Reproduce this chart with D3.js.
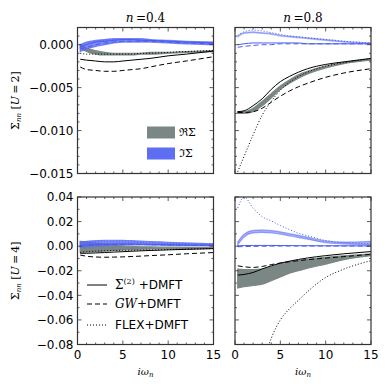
<!DOCTYPE html>
<html>
<head>
<meta charset="utf-8">
<script src="https://cdn.jsdelivr.net/npm/d3@7"></script>
<style>
  body { margin: 0; background: #fff; }
  text { font-family: "DejaVu Sans", sans-serif; }
  .serif { font-family: "DejaVu Serif", "Liberation Serif", serif; }
</style>
</head>
<body>
<div id="chart"></div>
<script>
// frequency grid (i omega_n)
var wn = [0.3, 1, 2, 3, 4, 5, 6, 7, 8, 10, 12, 15];

// n=0.4, U=2
var a_reS2   = [-0.0017, -0.0018, -0.0019, -0.0020, -0.0020, -0.0019, -0.0018, -0.0017, -0.0016, -0.0013, -0.0011, -0.00075];
var a_reGW   = [-0.0026, -0.0029, -0.0030, -0.0031, -0.0031, -0.0030, -0.0029, -0.0028, -0.0026, -0.0022, -0.0019, -0.0014];
var a_reFLEX = [-0.0010, -0.0011, -0.0011, -0.0011, -0.0011, -0.0011, -0.0011, -0.0010, -0.0010, -0.0009, -0.0008, -0.0007];
var a_reLo   = [-0.0004, -0.0008, -0.0011, -0.0012, -0.0012, -0.0012, -0.0012, -0.0011, -0.0011, -0.0010, -0.0009, -0.0008];
var a_reHi   = [ 0.0000, -0.0004, -0.0007, -0.0009, -0.0010, -0.0010, -0.0010, -0.0010, -0.0009, -0.0009, -0.0008, -0.0007];
var a_imLo   = [-0.0008, -0.0005, -0.0002, 0.0000, 0.0002, 0.0003, 0.0003, 0.0003, 0.0003, 0.0002, 0.0001, 0.0000];
var a_imHi   = [ 0.0000, 0.0003, 0.0005, 0.0006, 0.0007, 0.0007, 0.0007, 0.0007, 0.0006, 0.0005, 0.0004, 0.0003];
var a_imS2   = [-0.0003, 0.0000, 0.0003, 0.0004, 0.0005, 0.0006, 0.0006, 0.0005, 0.0005, 0.0004, 0.0003, 0.0002];
var a_imGW   = [-0.0005, -0.0003, 0.0000, 0.0002, 0.0003, 0.0004, 0.0004, 0.0004, 0.0004, 0.0003, 0.0002, 0.0001];
var a_imFLEX = [-0.0002, 0.0001, 0.0004, 0.0005, 0.0006, 0.0006, 0.0006, 0.0006, 0.0005, 0.0004, 0.0003, 0.0002];

// n=0.8, U=2
var b_reS2   = [-0.0078, -0.0077, -0.0071, -0.0063, -0.0052, -0.0043, -0.0037, -0.0032, -0.0028, -0.0023, -0.0020, -0.0016];
var b_reGW   = [-0.0079, -0.0079, -0.0078, -0.0074, -0.0067, -0.0060, -0.0054, -0.0049, -0.0045, -0.0038, -0.0033, -0.0028];
var b_reFLEX = [-0.0148, -0.0130, -0.0105, -0.0082, -0.0066, -0.0053, -0.0044, -0.0037, -0.0032, -0.0025, -0.0021, -0.0016];
var b_reLo   = [-0.0080, -0.0080, -0.0078, -0.0071, -0.0062, -0.0052, -0.0045, -0.0039, -0.0034, -0.0027, -0.0022, -0.0018];
var b_reHi   = [-0.0078, -0.0078, -0.0074, -0.0066, -0.0057, -0.0048, -0.0041, -0.0035, -0.0031, -0.0025, -0.0021, -0.0017];
var b_imLo   = [ 0.0009, 0.0013, 0.0014, 0.0013, 0.0012, 0.0010, 0.0009, 0.0008, 0.0007, 0.0005, 0.0003, 0.0001];
var b_imHi   = [ 0.0010, 0.0014, 0.0015, 0.0014, 0.0013, 0.0011, 0.0010, 0.0009, 0.0008, 0.0006, 0.0004, 0.0002];
var b_imS2   = [ 0.0000, 0.0001, 0.0002, 0.0002, 0.0002, 0.0002, 0.0002, 0.0002, 0.0001, 0.0001, 0.0001, 0.0001];
var b_imGW   = [-0.0003, -0.0002, -0.0001, 0.0000, 0.0000, 0.0001, 0.0001, 0.0001, 0.0001, 0.0001, 0.0001, 0.0001];
var b_imFLEX = [ 0.0011, 0.0015, 0.0017, 0.0016, 0.0014, 0.0012, 0.0010, 0.0009, 0.0008, 0.0006, 0.0004, 0.0002];

// n=0.4, U=4
var c_reS2   = [-0.0058, -0.0058, -0.0055, -0.0052, -0.0048, -0.0045, -0.0041, -0.0038, -0.0035, -0.0030, -0.0026, -0.0020];
var c_reGW   = [-0.0072, -0.0082, -0.0088, -0.0090, -0.0089, -0.0087, -0.0084, -0.0081, -0.0077, -0.0070, -0.0062, -0.0052];
var c_reFLEX = [-0.0050, -0.0045, -0.0040, -0.0037, -0.0035, -0.0034, -0.0033, -0.0032, -0.0031, -0.0028, -0.0024, -0.0019];
var c_reLo   = [-0.0050, -0.0048, -0.0045, -0.0040, -0.0035, -0.0031, -0.0028, -0.0025, -0.0023, -0.0020, -0.0018, -0.0015];
var c_reHi   = [ 0.0040, 0.0035, 0.0025, 0.0015, 0.0008, 0.0002, -0.0002, -0.0005, -0.0006, -0.0008, -0.0009, -0.0010];
var c_imLo   = [-0.0010, -0.0005, 0.0000, 0.0005, 0.0008, 0.0010, 0.0010, 0.0010, 0.0009, 0.0007, 0.0005, 0.0003];
var c_imHi   = [ 0.0035, 0.0040, 0.0045, 0.0048, 0.0048, 0.0047, 0.0045, 0.0042, 0.0038, 0.0032, 0.0026, 0.0020];
var c_imS2   = [ 0.0005, 0.0010, 0.0015, 0.0018, 0.0019, 0.0019, 0.0018, 0.0017, 0.0015, 0.0012, 0.0010, 0.0008];
var c_imGW   = [ 0.0000, 0.0005, 0.0010, 0.0013, 0.0014, 0.0014, 0.0014, 0.0013, 0.0012, 0.0010, 0.0008, 0.0006];
var c_imFLEX = [ 0.0020, 0.0028, 0.0033, 0.0035, 0.0035, 0.0034, 0.0032, 0.0030, 0.0027, 0.0022, 0.0018, 0.0014];

// n=0.8, U=4
var d_reS2   = [-0.0236, -0.0230, -0.0214, -0.0185, -0.0160, -0.0138, -0.0122, -0.0108, -0.0096, -0.0077, -0.0062, -0.0044];
var d_reGW   = [-0.0160, -0.0168, -0.0173, -0.0165, -0.0150, -0.0137, -0.0127, -0.0118, -0.0110, -0.0097, -0.0085, -0.0066];
var d_reFLEX = [-0.2500, -0.1900, -0.1400, -0.0980, -0.0750, -0.0600, -0.0510, -0.0440, -0.0370, -0.0255, -0.0187, -0.0118];
var d_reLo   = [-0.0340, -0.0330, -0.0320, -0.0310, -0.0280, -0.0250, -0.0220, -0.0200, -0.0180, -0.0146, -0.0110, -0.0077];
var d_reHi   = [-0.0187, -0.0190, -0.0190, -0.0187, -0.0168, -0.0146, -0.0130, -0.0118, -0.0108, -0.0090, -0.0078, -0.0063];
var d_imLo   = [ 0.0010, 0.0075, 0.0108, 0.0112, 0.0107, 0.0097, 0.0084, 0.0070, 0.0057, 0.0028, 0.0018, 0.0010];
var d_imHi   = [ 0.0035, 0.0098, 0.0128, 0.0132, 0.0127, 0.0117, 0.0102, 0.0088, 0.0073, 0.0043, 0.0033, 0.0040];
var d_imS2   = [ 0.0003, 0.0005, 0.0006, 0.0006, 0.0006, 0.0005, 0.0005, 0.0004, 0.0004, 0.0003, 0.0003, 0.0002];
var d_imGW   = [-0.0005, -0.0003, -0.0002, -0.0001, 0.0000, 0.0001, 0.0001, 0.0001, 0.0001, 0.0001, 0.0001, 0.0001];
var d_imFLEX = [ 0.0310, 0.0400, 0.0310, 0.0240, 0.0205, 0.0168, 0.0135, 0.0105, 0.0085, 0.0046, 0.0030, 0.0020];

var xTicks = [0, 5, 10, 15];
var yTicksU2 = [0.000, -0.005, -0.010, -0.015];
var yTicksU4 = [0.04, 0.02, 0.00, -0.02, -0.04, -0.06, -0.08];

var grey = "#7b8784", blue = "#5d6ef2", blueLine = "#4a5cf0";

var svg = d3.select("#chart").append("svg")
  .attr("width", 390).attr("height", 390);

var defs = svg.append("defs");

var colL = [77.5, 213.5], colR = [235, 371];
var rowT = [27.5, 173.5], rowB = [197, 344.5];

var panels = [
  {id: "a", xr: colL, yr: rowT, dom: [-0.015, 0.002], yt: yTicksU2, minor: 0.001, fmt: d3.format(".3f"), leftLab: true, bottomLab: false, op: 0.8,
   reS2: a_reS2, reGW: a_reGW, reFLEX: a_reFLEX, reLo: a_reLo, reHi: a_reHi, imLo: a_imLo, imHi: a_imHi, imS2: a_imS2, imGW: a_imGW, imFLEX: a_imFLEX},
  {id: "b", xr: colR, yr: rowT, dom: [-0.015, 0.002], yt: yTicksU2, minor: 0.001, fmt: d3.format(".3f"), leftLab: false, bottomLab: false, op: 0.45,
   reS2: b_reS2, reGW: b_reGW, reFLEX: b_reFLEX, reLo: b_reLo, reHi: b_reHi, imLo: b_imLo, imHi: b_imHi, imS2: b_imS2, imGW: b_imGW, imFLEX: b_imFLEX},
  {id: "c", xr: colL, yr: rowB, dom: [-0.08, 0.04], yt: yTicksU4, minor: 0.01, fmt: d3.format(".2f"), leftLab: true, bottomLab: true, op: 0.8,
   reS2: c_reS2, reGW: c_reGW, reFLEX: c_reFLEX, reLo: c_reLo, reHi: c_reHi, imLo: c_imLo, imHi: c_imHi, imS2: c_imS2, imGW: c_imGW, imFLEX: c_imFLEX},
  {id: "d", xr: colR, yr: rowB, dom: [-0.08, 0.04], yt: yTicksU4, minor: 0.01, fmt: d3.format(".2f"), leftLab: false, bottomLab: true, op: 0.55,
   reS2: d_reS2, reGW: d_reGW, reFLEX: d_reFLEX, reLo: d_reLo, reHi: d_reHi, imLo: d_imLo, imHi: d_imHi, imS2: d_imS2, imGW: d_imGW, imFLEX: d_imFLEX}
];

function minus(s) { return s.replace("-", "\u2212"); }

panels.forEach(function(p) {
  var x = d3.scaleLinear().domain([0, 15]).range(p.xr);
  var y = d3.scaleLinear().domain(p.dom).range([p.yr[1], p.yr[0]]);
  var w = p.xr[1] - p.xr[0], h = p.yr[1] - p.yr[0];

  defs.append("clipPath").attr("id", "clip-" + p.id)
    .append("rect").attr("x", p.xr[0]).attr("y", p.yr[0]).attr("width", w).attr("height", h);

  var g = svg.append("g").attr("clip-path", "url(#clip-" + p.id + ")");

  var area = function(lo, hi) {
    return d3.area().curve(d3.curveMonotoneX)
      .x(function(d, i) { return x(wn[i]); })
      .y0(function(d, i) { return y(lo[i]); })
      .y1(function(d, i) { return y(hi[i]); })(wn);
  };
  var line = function(v) {
    return d3.line().curve(d3.curveMonotoneX)
      .x(function(d, i) { return x(wn[i]); })
      .y(function(d) { return y(d); })(v);
  };

  // bands
  g.append("path").attr("d", area(p.reLo, p.reHi)).attr("fill", grey).attr("stroke", grey).attr("stroke-width", 1.2);
  g.append("path").attr("d", area(p.imLo, p.imHi)).attr("fill", blue).attr("fill-opacity", p.op)
    .attr("stroke", blue).attr("stroke-opacity", p.op).attr("stroke-width", 1.2);

  // lines
  var styles = [["reS2", "#000", null], ["reGW", "#000", "5,3"], ["reFLEX", "#000", "1,2"],
                ["imS2", blueLine, null], ["imGW", blueLine, "5,3"], ["imFLEX", blueLine, "1,2"]];
  styles.forEach(function(s) {
    g.append("path").attr("d", line(p[s[0]]))
      .attr("fill", "none").attr("stroke", s[1]).attr("stroke-width", 1)
      .attr("stroke-dasharray", s[2]);
  });

  // frame
  svg.append("rect").attr("x", p.xr[0]).attr("y", p.yr[0]).attr("width", w).attr("height", h)
    .attr("fill", "none").attr("stroke", "#333").attr("stroke-width", 1.2);

  // ticks, inside on all sides
  var ax = svg.append("g").attr("stroke", "#333").attr("stroke-width", 0.8);
  d3.range(0, 15.01, 1).forEach(function(t) {
    var len = (t % 5 === 0) ? 4 : 2;
    ax.append("line").attr("x1", x(t)).attr("x2", x(t)).attr("y1", p.yr[1]).attr("y2", p.yr[1] - len);
    ax.append("line").attr("x1", x(t)).attr("x2", x(t)).attr("y1", p.yr[0]).attr("y2", p.yr[0] + len);
  });
  var nMinor = Math.round((p.dom[1] - p.dom[0]) / p.minor);
  for (var k = 0; k <= nMinor; k++) {
    var v = p.dom[0] + k * p.minor;
    var major = p.yt.some(function(t) { return Math.abs(t - v) < p.minor / 10; });
    var len = major ? 4 : 2;
    ax.append("line").attr("x1", p.xr[0]).attr("x2", p.xr[0] + len).attr("y1", y(v)).attr("y2", y(v));
    ax.append("line").attr("x1", p.xr[1]).attr("x2", p.xr[1] - len).attr("y1", y(v)).attr("y2", y(v));
  }

  if (p.leftLab) {
    p.yt.forEach(function(t) {
      svg.append("text").attr("x", p.xr[0] - 4).attr("y", y(t)).attr("dy", "0.35em")
        .attr("text-anchor", "end").attr("font-size", 12).text(minus(p.fmt(t)));
    });
  }
  if (p.bottomLab) {
    xTicks.forEach(function(t) {
      svg.append("text").attr("x", x(t)).attr("y", p.yr[1] + 14)
        .attr("text-anchor", "middle").attr("font-size", 12).text(t);
    });
    var xl = svg.append("text").attr("class", "serif").attr("x", (p.xr[0] + p.xr[1]) / 2).attr("y", p.yr[1] + 30)
      .attr("text-anchor", "middle").attr("font-size", 10).attr("font-style", "italic");
    xl.append("tspan").text("i\u03c9");
    xl.append("tspan").attr("font-size", 7).attr("dy", 2).text("n");
  }
});

// column titles
[["0.4", colL], ["0.8", colR]].forEach(function(c) {
  var t = svg.append("text").attr("class", "serif").attr("x", (c[1][0] + c[1][1]) / 2).attr("y", 22)
    .attr("text-anchor", "middle").attr("font-size", 12);
  t.append("tspan").attr("font-style", "italic").text("n");
  t.append("tspan").text("\u2009=" + c[0]);
});

// y labels
[["2", rowT], ["4", rowB]].forEach(function(r) {
  var cy = (r[1][0] + r[1][1]) / 2;
  var t = svg.append("text").attr("class", "serif")
    .attr("transform", "translate(19," + cy + ") rotate(-90)")
    .attr("text-anchor", "middle").attr("font-size", 11);
  t.append("tspan").text("\u03a3");
  t.append("tspan").attr("font-size", 7).attr("dy", 2).attr("font-style", "italic").text("nn");
  t.append("tspan").attr("dy", -2).text(" [");
  t.append("tspan").attr("font-style", "italic").text("U");
  t.append("tspan").text("\u2009=\u2009" + r[0] + "]");
});

// legend: bands
[[grey, "\u211c\u03a3", 132.5], [blue, "\u2111\u03a3", 153.5]].forEach(function(l) {
  svg.append("rect").attr("x", 147).attr("y", l[2] - 6).attr("width", 28).attr("height", 12).attr("fill", l[0]);
  svg.append("text").attr("class", "serif").attr("x", 179).attr("y", l[2]).attr("dy", "0.35em")
    .attr("font-size", 11).text(l[1]);
});

// legend: methods
var leg = [[null, 285], ["5,3", 304], ["1,2", 325]];
leg.forEach(function(l) {
  svg.append("line").attr("x1", 87).attr("x2", 107).attr("y1", l[1]).attr("y2", l[1])
    .attr("stroke", "#000").attr("stroke-width", 1).attr("stroke-dasharray", l[0]);
});
var t1 = svg.append("text").attr("x", 115).attr("y", 285).attr("dy", "0.35em").attr("font-size", 12);
t1.append("tspan").attr("class", "serif").text("\u03a3");
t1.append("tspan").attr("class", "serif").attr("font-size", 8).attr("dy", -5).text("(2)");
t1.append("tspan").attr("dy", 5).text(" +DMFT");
var t2 = svg.append("text").attr("x", 115).attr("y", 304).attr("dy", "0.35em").attr("font-size", 12);
t2.append("tspan").attr("class", "serif").attr("font-style", "italic").text("GW");
t2.append("tspan").text("+DMFT");
svg.append("text").attr("x", 115).attr("y", 325).attr("dy", "0.35em").attr("font-size", 12).text("FLEX+DMFT");
</script>
</body>
</html>
